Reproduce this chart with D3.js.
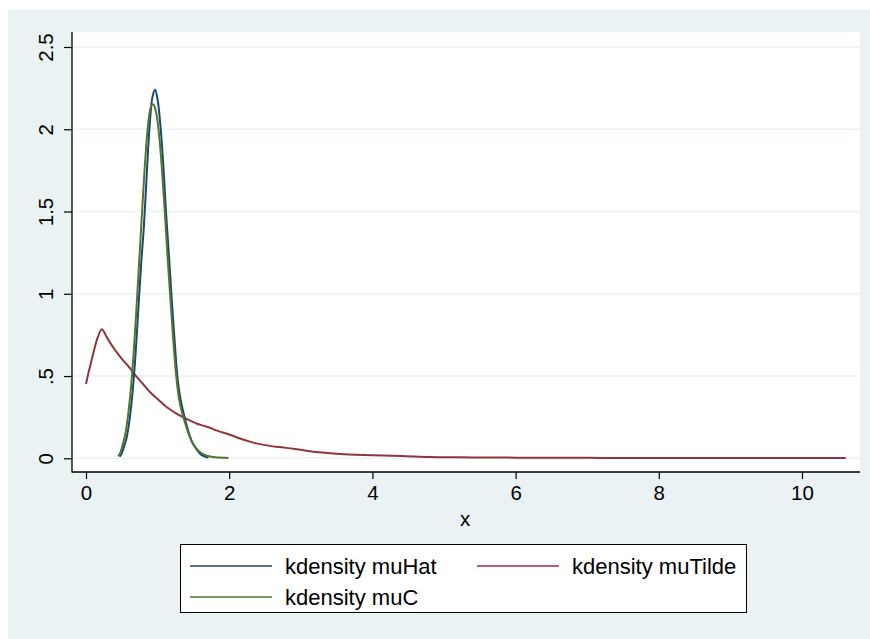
<!DOCTYPE html>
<html>
<head>
<meta charset="utf-8">
<script src="https://cdn.jsdelivr.net/npm/d3@7"></script>
<style>
  html, body { margin: 0; padding: 0; background: #ffffff; }
  svg { display: block; font-family: "Liberation Sans", Arial, sans-serif; }
</style>
</head>
<body>
<svg id="chart" width="870" height="639"></svg>
<script>
// Kernel density estimates of three estimators
const muHatX = [0.47, 0.50, 0.53, 0.57, 0.61, 0.65, 0.69, 0.73, 0.77, 0.81, 0.85, 0.89, 0.93, 0.965, 1.00, 1.04, 1.08, 1.12, 1.16, 1.20, 1.24, 1.28, 1.32, 1.36, 1.40, 1.44, 1.48, 1.52, 1.56, 1.60, 1.65, 1.71];
const muHatY = [0.01, 0.03, 0.07, 0.13, 0.24, 0.40, 0.62, 0.90, 1.18, 1.42, 1.74, 2.03, 2.20, 2.24, 2.18, 2.02, 1.78, 1.48, 1.22, 0.95, 0.70, 0.48, 0.36, 0.28, 0.21, 0.15, 0.10, 0.07, 0.045, 0.025, 0.012, 0.004];

const muCX = [0.45, 0.48, 0.51, 0.55, 0.59, 0.63, 0.67, 0.71, 0.75, 0.79, 0.83, 0.87, 0.91, 0.94, 0.98, 1.02, 1.06, 1.10, 1.14, 1.18, 1.22, 1.26, 1.30, 1.34, 1.38, 1.42, 1.46, 1.50, 1.55, 1.60, 1.66, 1.72, 1.80, 1.90, 1.99];
const muCY = [0.012, 0.035, 0.08, 0.15, 0.27, 0.44, 0.67, 0.95, 1.25, 1.55, 1.83, 2.04, 2.14, 2.152, 2.10, 1.97, 1.76, 1.50, 1.22, 0.96, 0.71, 0.50, 0.36, 0.28, 0.22, 0.165, 0.12, 0.085, 0.055, 0.035, 0.02, 0.012, 0.007, 0.004, 0.002];

const muTildeX = [0, 0.04, 0.08, 0.12, 0.16, 0.22, 0.28, 0.34, 0.42, 0.50, 0.60, 0.70, 0.80, 0.90, 1.00, 1.13, 1.27, 1.40, 1.55, 1.70, 1.85, 2.00, 2.15, 2.30, 2.50, 2.70, 2.90, 3.10, 3.30, 3.60, 4.00, 4.40, 4.80, 5.20, 5.60, 6.00, 6.50, 7.00, 7.50, 8.00, 8.50, 9.00, 9.50, 10.00, 10.61];
const muTildeY = [0.452, 0.53, 0.60, 0.67, 0.73, 0.784, 0.745, 0.70, 0.65, 0.605, 0.555, 0.50, 0.45, 0.40, 0.36, 0.31, 0.27, 0.24, 0.21, 0.19, 0.165, 0.145, 0.12, 0.10, 0.08, 0.068, 0.058, 0.045, 0.035, 0.025, 0.018, 0.014, 0.008, 0.006, 0.005, 0.004, 0.003, 0.003, 0.002, 0.002, 0.002, 0.002, 0.002, 0.002, 0.002];

const xTicks = [0, 2, 4, 6, 8, 10];
const yTicks = [0, 0.5, 1, 1.5, 2, 2.5];
const yTickLabels = ["0", ".5", "1", "1.5", "2", "2.5"];

const seriesNames = ["kdensity muHat", "kdensity muTilde", "kdensity muC"];
const seriesColors = ["#1a476f", "#90353b", "#55752f"];

const svg = d3.select("#chart");

// outer graph region
svg.append("rect").attr("x", 8).attr("y", 10).attr("width", 862).attr("height", 629).attr("fill", "#eaf2f3");

// plot region
const plot = { left: 72, right: 860, top: 32, bottom: 472 };
svg.append("rect")
  .attr("x", plot.left).attr("y", plot.top)
  .attr("width", plot.right - plot.left).attr("height", plot.bottom - plot.top)
  .attr("fill", "#ffffff");

const x = d3.scaleLinear().domain([0, 10]).range([86, 802]);
const y = d3.scaleLinear().domain([0, 2.5]).range([458.3, 47]);

// horizontal grid lines
svg.append("g").selectAll("line").data(yTicks).join("line")
  .attr("x1", plot.left).attr("x2", plot.right)
  .attr("y1", d => y(d)).attr("y2", d => y(d))
  .attr("stroke", "#eaf2f3").attr("stroke-width", 1.6);

// density curves
const line = d3.line().x(d => x(d[0])).y(d => y(d[1])).curve(d3.curveCatmullRom.alpha(0.5));
const series = [
  { xs: muTildeX, ys: muTildeY, color: seriesColors[1] },
  { xs: muHatX, ys: muHatY, color: seriesColors[0] },
  { xs: muCX, ys: muCY, color: seriesColors[2] }
];
series.forEach(s => {
  svg.append("path")
    .datum(s.xs.map((v, i) => [v, s.ys[i]]))
    .attr("d", line)
    .attr("fill", "none")
    .attr("stroke", s.color)
    .attr("stroke-width", 2)
    .attr("stroke-linejoin", "round");
});

// axes
const xAxis = svg.append("g").attr("transform", `translate(0,${plot.bottom})`)
  .call(d3.axisBottom(x).tickValues(xTicks).tickFormat(d3.format("d")).tickSize(7).tickPadding(6));
xAxis.select(".domain").remove();
xAxis.selectAll(".tick line").attr("stroke", "#000").attr("stroke-width", 1.2);
xAxis.selectAll(".tick text").attr("font-size", 20.5).attr("fill", "#000")
  .attr("font-family", "\"Liberation Sans\", Arial, sans-serif");

const yAxis = svg.append("g").attr("transform", `translate(${plot.left},0)`)
  .call(d3.axisLeft(y).tickValues(yTicks).tickFormat((d, i) => yTickLabels[i]).tickSize(8));
yAxis.select(".domain").remove();
yAxis.selectAll(".tick line").attr("stroke", "#000").attr("stroke-width", 1.2);
yAxis.selectAll(".tick text")
  .attr("font-size", 20.5).attr("fill", "#000")
  .attr("font-family", "\"Liberation Sans\", Arial, sans-serif")
  .attr("x", null).attr("dy", null)
  .attr("text-anchor", "middle")
  .attr("transform", "translate(-27,0) rotate(-90)")
  .attr("dominant-baseline", "central");

// axis lines
svg.append("line").attr("x1", plot.left).attr("x2", plot.left).attr("y1", plot.top).attr("y2", plot.bottom + 0.5)
  .attr("stroke", "#000").attr("stroke-width", 1.3);
svg.append("line").attr("x1", plot.left).attr("x2", plot.right).attr("y1", plot.bottom).attr("y2", plot.bottom)
  .attr("stroke", "#000").attr("stroke-width", 1.3);

// axis title
svg.append("text").attr("x", (plot.left + plot.right) / 2 - 1).attr("y", 526)
  .attr("text-anchor", "middle").attr("font-size", 20.5).attr("fill", "#000").text("x");

// legend
const legend = svg.append("g");
legend.append("rect").attr("x", 180.5).attr("y", 544.5).attr("width", 566).attr("height", 68)
  .attr("fill", "#ffffff").attr("stroke", "#000").attr("stroke-width", 1);
const legendItems = [
  { name: seriesNames[0], color: seriesColors[0], lx: 190, ly: 566 },
  { name: seriesNames[1], color: seriesColors[1], lx: 477, ly: 566 },
  { name: seriesNames[2], color: seriesColors[2], lx: 190, ly: 597 }
];
legendItems.forEach(it => {
  legend.append("line").attr("x1", it.lx).attr("x2", it.lx + 82).attr("y1", it.ly).attr("y2", it.ly)
    .attr("stroke", it.color).attr("stroke-width", 1.6);
  legend.append("text").attr("x", it.lx + 95).attr("y", it.ly).attr("dominant-baseline", "central")
    .attr("font-size", 22).attr("fill", "#000").text(it.name);
});
</script>
</body>
</html>
